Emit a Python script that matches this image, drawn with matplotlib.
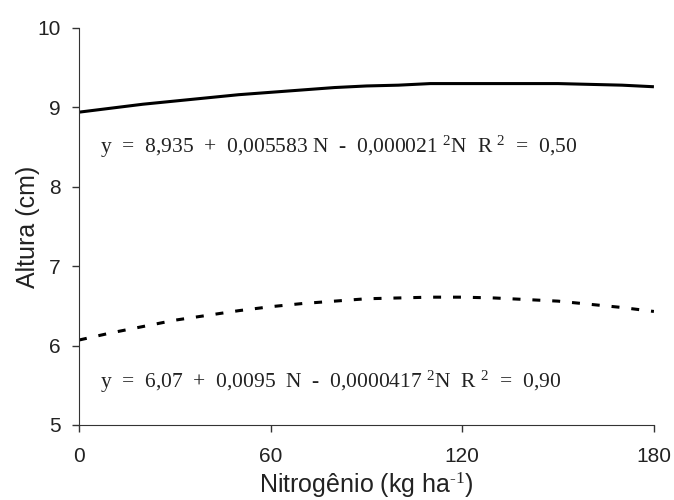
import matplotlib.pyplot as plt
import numpy as np

plt.rcParams['font.family'] = ['Liberation Sans', 'DejaVu Sans']
plt.rcParams['mathtext.fontset'] = 'custom'
plt.rcParams['mathtext.rm'] = 'Liberation Serif'
plt.rcParams['mathtext.it'] = 'Liberation Serif'

# values
nitrogen = [0, 10, 20, 30, 40, 50, 60, 70, 80, 90, 100, 110, 120, 130, 140, 150, 160, 170, 180]
altura_solid = [8.94, 8.99, 9.04, 9.08, 9.12, 9.16, 9.19, 9.22, 9.25, 9.27, 9.28, 9.30, 9.30, 9.30, 9.30, 9.30, 9.29, 9.28, 9.26]
altura_dashed = [6.07, 6.16, 6.24, 6.32, 6.38, 6.44, 6.49, 6.53, 6.56, 6.59, 6.60, 6.61, 6.61, 6.60, 6.58, 6.56, 6.52, 6.48, 6.43]

eq_solid = 'y  =  8,935  +  0,005583 N  -  0,000021 $^{2}$N  R $^{2}$  =  0,50'
eq_dashed = 'y  =  6,07  +  0,0095  N  -  0,0000417 $^{2}$N  R $^{2}$  =  0,90'

fig = plt.figure(figsize=(6.74, 5), dpi=100)
ax = fig.add_axes([0.1172, 0.15, 0.853, 0.794])

ax.plot(nitrogen, altura_solid, color='black', lw=2.2, solid_capstyle='butt')
ax.plot(nitrogen, altura_dashed, color='black', lw=2.2, dashes=(2.6, 3.9))

ax.set_xlim(0, 180)
ax.set_ylim(5, 10)
ax.set_xticks([0, 60, 120, 180])
ax.set_yticks([5, 6, 7, 8, 9, 10])
ax.spines['top'].set_visible(False)
ax.spines['right'].set_visible(False)
ax.spines['left'].set_color('#333333')
ax.spines['bottom'].set_color('#333333')
ax.tick_params(direction='out', length=5, width=1, colors='#333333', labelsize=15, labelcolor='#222222')
ax.tick_params(axis='x', pad=11)
ax.tick_params(axis='y', pad=8)

ax.set_xlabel('Nitrogênio (kg ha$^{\\text{-1}}$)', fontsize=18, labelpad=3, color='#222222')
ax.set_ylabel('Altura (cm)', fontsize=18, labelpad=-2, color='#222222')

ax.text(6.6, 8.5, eq_solid, family='Liberation Serif', fontsize=15.5, va='center', color='#222222')
ax.text(6.6, 5.54, eq_dashed, family='Liberation Serif', fontsize=15.5, va='center', color='#222222')

fig.savefig('out.png', dpi=100)
